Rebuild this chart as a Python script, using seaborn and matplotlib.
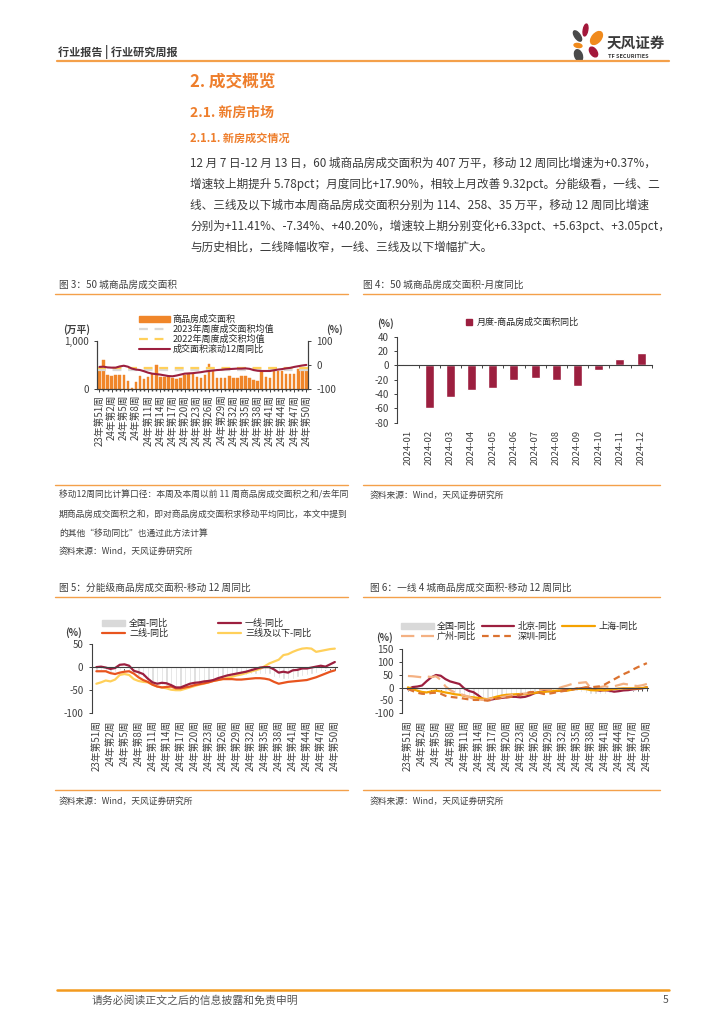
import numpy as np
import pandas as pd
import matplotlib
matplotlib.use('Agg')
import matplotlib.pyplot as plt
import seaborn as sns
from matplotlib.patches import Ellipse, Patch
from matplotlib.lines import Line2D

###############
# Data
###############
weeks = ['23年第51周', '23年第52周'] + ['24年第%d周' % w for w in range(1, 51)]

# 50 城商品房成交面积 (万平)
area = [380, 605, 297, 262, 290, 297, 297, 172, 20, 145,
        276, 207, 248, 310, 490, 248, 248, 262, 228, 214,
        228, 290, 317, 317, 241, 228, 290, 517, 414, 228,
        221, 221, 276, 221, 228, 262, 262, 221, 193, 172,
        366, 248, 221, 366, 366, 379, 317, 317, 317, 421,
        400, 407]
mean_2023 = 398
mean_2022 = 432

# 成交面积滚动12周同比 / 全国-同比 (%)
nat_yoy = [-8, -7, -10, -11, -11, -6, -3, -7, -15, -19,
           -21, -26, -32, -36, -38, -40, -43, -46, -47, -44,
           -40, -36, -35, -34, -32, -30, -27, -25, -23, -21,
           -20, -18, -17, -16, -15, -15, -14, -16, -21, -24,
           -25, -25, -25, -22, -19, -17, -14, -12, -8, -5,
           -2, 0.37]

months = ['2024-01', '2024-02', '2024-03', '2024-04', '2024-05', '2024-06',
          '2024-07', '2024-08', '2024-09', '2024-10', '2024-11', '2024-12']
monthly_yoy = [2.3, -59, -44, -35, -31, -21, -18, -21, -29, -7, 8.58, 17.90]

# 分能级 移动12周同比 (%)
tier1_yoy = [0, 1, -1, -4, -2, 5, 6, 3, -8, -11,
             -15, -25, -33, -36, -34, -35, -39, -44, -44, -40,
             -36, -34, -33, -31, -30, -28, -24, -21, -18, -16,
             -14, -12, -10, -7, -4, -1, 0, 0, -5, -12,
             -10, -12, -7, -6, -3, -3, -1, 1, 3, 1,
             6, 11]
tier2_yoy = [-9, -9, -9, -13, -15, -12, -10, -9, -14, -22,
             -28, -32, -38, -42, -44, -43, -42, -46, -46, -44,
             -42, -39, -37, -35, -33, -30, -28, -26, -26, -26,
             -27, -27, -26, -25, -24, -24, -25, -27, -32, -36,
             -34, -32, -31, -30, -29, -28, -25, -22, -18, -14,
             -10, -7]
tier3_yoy = [-36, -33, -29, -31, -27, -17, -15, -17, -26, -30,
             -32, -33, -38, -42, -44, -46, -49, -50, -50, -47,
             -44, -41, -38, -36, -33, -30, -28, -26, -23, -21,
             -18, -16, -13, -10, -7, -4, 2, 8, 12, 16,
             26, 28, 33, 37, 40, 41, 40, 33, 35, 37,
             39, 40]

# 一线 4 城 移动12周同比 (%)
bj_yoy = [-6, 2, 4, 8, 25, 40, 49, 46, 33, 24,
          19, 14, -3, -13, -18, -30, -45, -48, -46, -42,
          -40, -38, -36, -36, -38, -36, -30, -22, -18, -14,
          -13, -15, -13, -11, -9, -7, -5, -3, -1, -4,
          -9, -12, -10, -12, -16, -14, -11, -10, -7, -5,
          -3, 1]
sh_yoy = [1, -6, -12, -17, -19, -15, -12, -15, -19, -22,
          -26, -28, -32, -36, -38, -40, -43, -45, -40, -35,
          -31, -28, -27, -26, -25, -26, -23, -21, -18, -17,
          -15, -13, -12, -12, -12, -8, -5, -5, -6, -10,
          -11, -9, -11, -8, -6, -4, -3, -3, -3, -3,
          -2, 1]
gz_yoy = [45, 44, 42, 40, 43, 41, 44, 30, 5, -10,
          -18, -24, -30, -36, -44, -47, -48, -46, -42, -39,
          -37, -34, -30, -27, -25, -23, -20, -14, -8, -6,
          -8, -7, -3, 3, 8, 14, 17, 19, 21, -2,
          0, 2, 5, 2, 5, 10, 15, 12, 8, 6,
          9, 14]
sz_yoy = [-6, -13, -20, -24, -25, -21, -20, -24, -32, -36,
          -38, -40, -43, -46, -48, -48, -49, -51, -47, -43,
          -40, -38, -36, -32, -28, -23, -18, -17, -20, -25,
          -24, -21, -17, -14, -11, -7, -4, -2, 1, 1,
          3, 5, 12, 22, 32, 42, 52, 60, 70, 79,
          87, 95]

###############
# Style
###############
W, H = 724, 1024
C_ORANGE = '#F0862A'
C_DRED = '#9C1F3F'
C_RED2 = '#E8541E'
C_YEL = '#FFD05A'
C_GRAY = '#D9D9D9'
C_SH = '#F5A200'
C_GZ = '#F4B183'
C_SZ = '#DB7230'
C_LINE = '#F4A04A'
C_TXT = '#404040'

sns.set_theme(style='ticks', rc={'axes.edgecolor': C_TXT, 'axes.linewidth': 0.8,
                                 'xtick.color': C_TXT, 'ytick.color': C_TXT,
                                 'xtick.labelsize': 7, 'ytick.labelsize': 7,
                                 'xtick.major.size': 2.5, 'ytick.major.size': 2.5,
                                 'xtick.major.width': 0.7, 'ytick.major.width': 0.7})
plt.rcParams['font.family'] = ['Noto Sans CJK SC', 'DejaVu Sans']
plt.rcParams['axes.unicode_minus'] = False

fig = plt.figure(figsize=(W / 100, H / 100), dpi=100)


def px_axes(x0, y0, x1, y1):
    return fig.add_axes([x0 / W, 1 - y1 / H, (x1 - x0) / W, (y1 - y0) / H])


def ptext(x, y, s, **kw):
    kw.setdefault('va', 'center')
    kw.setdefault('ha', 'left')
    kw.setdefault('color', C_TXT)
    fig.text(x / W, 1 - y / H, s, **kw)


def hline(x0, x1, y, color=C_LINE, lw=1.0):
    fig.add_artist(Line2D([x0 / W, x1 / W], [1 - y / H, 1 - y / H],
                          color=color, lw=lw, transform=fig.transFigure))


def zero_axis(ax, tick_pos, label_pos, labels, pad, size=7):
    sns.despine(ax=ax)
    ax.spines['bottom'].set_position(('data', 0))
    ax.set_xticks(tick_pos)
    ax.tick_params(axis='x', length=2.5, labelbottom=False)
    sec = ax.secondary_xaxis('bottom')
    sec.set_xticks(label_pos, labels=labels, rotation=90)
    sec.tick_params(length=0, labelsize=size, pad=pad)
    sec.spines['bottom'].set_visible(False)
    ax.set_xlabel('')
    ax.set_ylabel('')


###############
# Page header
###############
ptext(58, 52, '行业报告 | 行业研究周报', fontsize=8, fontweight='bold', color='#3a3a3a')
hline(57, 669, 61, lw=1.6)

ax_logo = px_axes(566, 20, 610, 66)
ax_logo.set_xlim(566, 610)
ax_logo.set_ylim(66, 20)
ax_logo.axis('off')
petals = [((577.5, 36), 5.5, 12, -35, '#4a4a4a'),
          ((585.5, 30), 4.5, 12, 10, '#A3173A'),
          ((596.5, 38), 9, 15, 40, '#F08A1C'),
          ((578, 45.5), 8, 4, 10, '#F08A1C'),
          ((593.5, 52), 6.5, 11, -35, '#A3173A'),
          ((578.5, 55.5), 7.5, 12, -20, '#4a4a4a')]
for c, w, h, a, col in petals:
    ax_logo.add_patch(Ellipse(c, w, h, angle=a, color=col))
ptext(607, 43, '天风证券', fontsize=10.5, fontweight='bold', color='#3a3a3a')
ptext(608, 57, 'TF SECURITIES', fontsize=4, fontweight='bold', color='#3a3a3a')

ptext(190, 81, '2. 成交概览', fontsize=12, fontweight='bold', color='#EE7E2C')
ptext(190, 113, '2.1. 新房市场', fontsize=10, fontweight='bold', color='#EE7E2C')
ptext(190, 138, '2.1.1. 新房成交情况', fontsize=8, fontweight='bold', color='#EE7E2C')

para = ['12 月 7 日-12 月 13 日，60 城商品房成交面积为 407 万平，移动 12 周同比增速为+0.37%，',
        '增速较上期提升 5.78pct；月度同比+17.90%，相较上月改善 9.32pct。分能级看，一线、二',
        '线、三线及以下城市本周商品房成交面积分别为 114、258、35 万平，移动 12 周同比增速',
        '分别为+11.41%、-7.34%、+40.20%，增速较上期分别变化+6.33pct、+5.63pct、+3.05pct，',
        '与历史相比，二线降幅收窄，一线、三线及以下增幅扩大。']
for i, line in enumerate(para):
    ptext(190, 163 + 21 * i, line, fontsize=8.4, color='#3a3a3a')

###############
# 图3: 50 城商品房成交面积
###############
ptext(59, 285, '图 3：50 城商品房成交面积', fontsize=7)
hline(55, 348, 294)
ptext(363, 285, '图 4：50 城商品房成交面积-月度同比', fontsize=7)
hline(363, 660, 294)

pos = np.arange(len(weeks))
df3 = pd.DataFrame({'pos': pos, 'week': weeks, 'area': area, 'yoy': nat_yoy})
ax3 = px_axes(97, 341, 308, 389)
sns.barplot(data=df3, x='pos', y='area', native_scale=True, color=C_ORANGE,
            saturation=1, width=0.62, errorbar=None, edgecolor=C_ORANGE, linewidth=0.3, ax=ax3)
ax3.axhline(mean_2023, color=C_GRAY, ls=(0, (4, 3)), lw=1.6, zorder=3)
ax3.axhline(mean_2022, color=C_YEL, ls=(0, (4, 3)), lw=1.6, zorder=3)
ax3.set_xlim(-0.6, 51.4)
ax3.set_ylim(0, 1000)
ax3.set_yticks([0, 1000], labels=['0', '1,000'])
ax3.set_xticks(pos[::3], labels=weeks[::3], rotation=90)
ax3.set_xticks(pos, minor=True)
ax3.tick_params(axis='x', which='major', labelsize=7, pad=2, length=2)
ax3.tick_params(axis='x', which='minor', length=1.5)
ax3.spines['top'].set_visible(False)
ax3.set_xlabel('')
ax3.set_ylabel('')
ax3r = ax3.twinx()
sns.lineplot(data=df3, x='pos', y='yoy', color=C_DRED, lw=1.5, ax=ax3r)
ax3r.set_ylim(-100, 100)
ax3r.set_yticks([-100, 0, 100])
ax3r.spines['top'].set_visible(False)
ax3r.set_ylabel('')
ax3r.set_xlabel('')
ptext(63, 330, '(万平)', fontsize=7, fontweight='bold')
ptext(326, 330, '(%)', fontsize=7, fontweight='bold')
h3 = [Patch(color=C_ORANGE), Line2D([], [], color=C_GRAY, ls=(0, (4, 3)), lw=1.6),
      Line2D([], [], color=C_YEL, ls=(0, (4, 3)), lw=1.6), Line2D([], [], color=C_DRED, lw=1.5)]
fig.legend(h3, ['商品房成交面积', '2023年周度成交面积均值', '2022年周度成交积均值', '成交面积滚动12周同比'],
           loc='upper left', bbox_to_anchor=(139 / W, 1 - 315 / H), frameon=False,
           fontsize=6.5, handlelength=3.4, handletextpad=0.3, labelspacing=0.08,
           borderpad=0, borderaxespad=0)

ptext(59, 495, '移动12周同比计算口径：本周及本周以前 11 周商品房成交面积之和/去年同', fontsize=6.3)
ptext(59, 514, '期商品房成交面积之和，即对商品房成交面积求移动平均同比，本文中提到', fontsize=6.3)
ptext(59, 533, '的其他“移动同比”也通过此方法计算', fontsize=6.3)
ptext(59, 551, '资料来源：Wind，天风证券研究所', fontsize=6.3)
hline(55, 348, 485)

###############
# 图4: 月度同比
###############
df4 = pd.DataFrame({'pos': np.arange(len(months)), 'month': months, 'yoy': monthly_yoy})
ax4 = px_axes(397.3, 336.7, 651.7, 422.7)
sns.barplot(data=df4, x='pos', y='yoy', native_scale=True, color=C_DRED,
            saturation=1, width=0.42, errorbar=None, ax=ax4)
ax4.set_xlim(-0.5, 11.5)
ax4.set_ylim(-80, 40)
ax4.set_yticks(np.arange(-80, 41, 20))
zero_axis(ax4, np.arange(len(months)) + 0.5, df4['pos'], months, 5, size=6.8)
ptext(377, 324, '(%)', fontsize=7, fontweight='bold')
fig.legend([Patch(color=C_DRED)], ['月度-商品房成交面积同比'], loc='upper left',
           bbox_to_anchor=(466 / W, 1 - 318 / H), frameon=False, fontsize=6.5,
           handlelength=0.7, handleheight=0.7, handletextpad=0.5, borderpad=0, borderaxespad=0)
ptext(370, 495, '资料来源：Wind，天风证券研究所', fontsize=6.3)
hline(363, 660, 485)

###############
# 图5: 分能级
###############
ptext(59, 588, '图 5：分能级商品房成交面积-移动 12 周同比', fontsize=7)
hline(55, 348, 597)
df5 = pd.DataFrame({'pos': pos, 'nat': nat_yoy, 't1': tier1_yoy, 't2': tier2_yoy, 't3': tier3_yoy})
ax5 = px_axes(91.7, 644, 336.7, 713.3)
sns.barplot(data=df5, x='pos', y='nat', native_scale=True, color=C_GRAY,
            saturation=1, width=0.5, errorbar=None, ax=ax5)
sns.lineplot(data=df5, x='pos', y='t3', color=C_YEL, lw=1.6, ax=ax5)
sns.lineplot(data=df5, x='pos', y='t2', color=C_RED2, lw=1.6, ax=ax5)
sns.lineplot(data=df5, x='pos', y='t1', color=C_DRED, lw=1.6, ax=ax5)
ax5.set_xlim(-1, 51.4)
ax5.set_ylim(-100, 50)
ax5.set_yticks([-100, -50, 0, 50])
zero_axis(ax5, pos, pos[::3], weeks[::3], 5)
ptext(65, 633, '(%)', fontsize=7, fontweight='bold')
h5 = [Patch(color=C_GRAY), Line2D([], [], color=C_RED2, lw=1.6),
      Line2D([], [], color=C_DRED, lw=1.6), Line2D([], [], color=C_YEL, lw=1.6)]
fig.legend(h5, ['全国-同比', '二线-同比', '一线-同比', '三线及以下-同比'], ncol=2,
           loc='upper left', bbox_to_anchor=(102 / W, 1 - 619 / H), frameon=False,
           fontsize=6.5, handlelength=2.6, handletextpad=0.4, labelspacing=0.05,
           columnspacing=5.5, borderpad=0, borderaxespad=0)
ptext(59, 801, '资料来源：Wind，天风证券研究所', fontsize=6.3)
hline(55, 348, 790)

###############
# 图6: 一线 4 城
###############
ptext(370, 588, '图 6：一线 4 城商品房成交面积-移动 12 周同比', fontsize=7)
hline(363, 660, 597)
df6 = pd.DataFrame({'pos': pos, 'nat': nat_yoy, 'bj': bj_yoy, 'sh': sh_yoy, 'gz': gz_yoy, 'sz': sz_yoy})
ax6 = px_axes(402.3, 649, 648.3, 713.3)
sns.barplot(data=df6, x='pos', y='nat', native_scale=True, color=C_GRAY,
            saturation=1, width=0.5, errorbar=None, ax=ax6)
sns.lineplot(data=df6, x='pos', y='bj', color=C_DRED, lw=1.6, ax=ax6)
sns.lineplot(data=df6, x='pos', y='sh', color=C_SH, lw=1.6, ax=ax6)
sns.lineplot(data=df6, x='pos', y='gz', color=C_GZ, lw=1.6, linestyle=(0, (6, 3)), ax=ax6)
sns.lineplot(data=df6, x='pos', y='sz', color=C_SZ, lw=1.6, linestyle=(0, (3, 2)), ax=ax6)
ax6.set_xlim(-1.2, 51.3)
ax6.set_ylim(-100, 150)
ax6.set_yticks([-100, -50, 0, 50, 100, 150])
zero_axis(ax6, pos, pos[::3], weeks[::3], 5)
ptext(376, 638, '(%)', fontsize=7, fontweight='bold')
h6 = [Patch(color=C_GRAY), Line2D([], [], color=C_GZ, lw=1.6, ls=(0, (6, 3))),
      Line2D([], [], color=C_DRED, lw=1.6), Line2D([], [], color=C_SZ, lw=1.6, ls=(0, (3, 2))),
      Line2D([], [], color=C_SH, lw=1.6)]
fig.legend(h6, ['全国-同比', '广州-同比', '北京-同比', '深圳-同比', '上海-同比'], ncol=3,
           loc='upper left', bbox_to_anchor=(401 / W, 1 - 622 / H), frameon=False,
           fontsize=6.5, handlelength=3.6, handletextpad=0.4, labelspacing=0.05,
           columnspacing=0.6, borderpad=0, borderaxespad=0)
ptext(370, 801, '资料来源：Wind，天风证券研究所', fontsize=6.3)
hline(363, 660, 790)

###############
# Footer
###############
hline(57, 669, 990, color='#F39A1E', lw=1.8)
ptext(92, 1000, '请务必阅读正文之后的信息披露和免责申明', fontsize=7.8, color='#555555')
ptext(668, 1000, '5', fontsize=7.5, color='#555555', ha='right')

fig.savefig('out.png', dpi=100)
